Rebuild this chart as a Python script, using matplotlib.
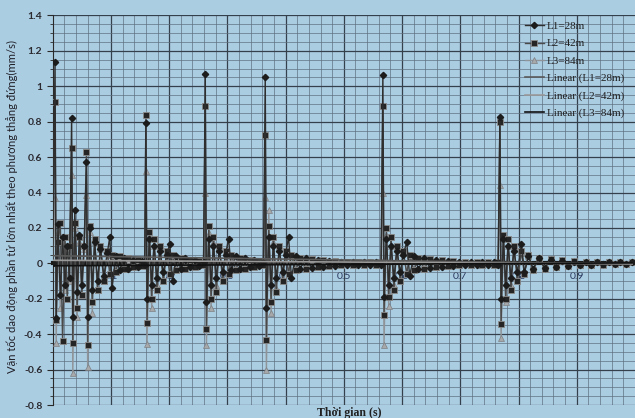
import numpy as np
import matplotlib
matplotlib.use("Agg")
import matplotlib.pyplot as plt
from matplotlib.ticker import MultipleLocator, FuncFormatter

# sample times (s), shared by the three spans
time_s = [
    # axles 1-3
    0.000, 0.004, 0.006, 0.009, 0.013, 0.017, 0.021, 0.025, 0.029, 0.0325,
    0.0345, 0.038, 0.042, 0.046, 0.050, 0.054, 0.058, 0.060, 0.064, 0.068,
    0.072, 0.077, 0.082, 0.088, 0.094, 0.098, 0.102, 0.108, 0.115, 0.122,
    0.130, 0.138, 0.146, 0.153, 0.158,
    # axle 4
    0.160, 0.162, 0.166, 0.170, 0.174, 0.179, 0.184, 0.190, 0.196, 0.201,
    0.206, 0.212, 0.220, 0.228, 0.236, 0.244, 0.252, 0.259,
    # axle 5
    0.262, 0.264, 0.268, 0.272, 0.276, 0.281, 0.286, 0.292, 0.297, 0.302,
    0.307, 0.314, 0.322, 0.330, 0.338, 0.346, 0.354, 0.362,
    # axle 6
    0.365, 0.367, 0.371, 0.375, 0.379, 0.384, 0.389, 0.395, 0.400, 0.405,
    0.410, 0.417, 0.425, 0.435, 0.445, 0.455, 0.465, 0.475, 0.485, 0.495,
    0.505, 0.515, 0.525, 0.535, 0.545, 0.555, 0.564,
    # axle 7
    0.567, 0.569, 0.573, 0.577, 0.581, 0.586, 0.591, 0.597, 0.602, 0.608,
    0.613, 0.620, 0.628, 0.638, 0.648, 0.658, 0.668, 0.678, 0.688, 0.698,
    0.708, 0.718, 0.728, 0.738, 0.748, 0.758, 0.765,
    # axle 8
    0.768, 0.770, 0.774, 0.778, 0.782, 0.787, 0.792, 0.798, 0.805, 0.810,
    0.817, 0.825, 0.835, 0.845, 0.855, 0.865, 0.875, 0.885, 0.895, 0.905,
    0.915, 0.925, 0.935, 0.945, 0.955, 0.965, 0.975, 0.985, 0.995,
]

v_L1 = [
    0.0, 1.14, -0.31, 0.22, -0.18, 0.15, -0.12, 0.10, -0.08, 0.82,
    -0.30, 0.30, -0.16, 0.16, -0.12, 0.10, 0.57, -0.30, 0.20, -0.15,
    0.12, -0.10, 0.08, -0.07, 0.06, 0.15, -0.14, 0.04, -0.04, 0.03,
    -0.03, 0.02, -0.02, 0.015, -0.01,
    0.79, -0.20, 0.14, -0.12, 0.10, -0.08, 0.07, -0.05, 0.05, 0.11,
    -0.10, 0.04, -0.03, 0.03, -0.02, 0.02, -0.015, 0.01,
    1.07, -0.22, 0.14, -0.12, 0.10, -0.08, 0.07, -0.05, 0.05, 0.14,
    -0.04, 0.04, -0.03, 0.03, -0.02, 0.02, -0.015, 0.01,
    1.05, -0.25, 0.15, -0.12, 0.10, -0.08, 0.07, -0.05, 0.05, 0.15,
    -0.08, 0.04, -0.03, 0.03, -0.025, 0.02, -0.02, 0.015, -0.015, 0.01,
    -0.01, 0.01, -0.01, 0.01, -0.01, 0.01, -0.01,
    1.065, -0.19, 0.14, -0.12, 0.10, -0.08, 0.07, -0.05, 0.05, 0.12,
    -0.07, 0.04, -0.03, 0.03, -0.025, 0.02, -0.02, 0.015, -0.015, 0.01,
    -0.01, 0.01, -0.01, 0.01, -0.01, 0.01, -0.01,
    0.826, -0.20, 0.14, -0.12, 0.10, -0.08, 0.07, -0.05, 0.11, -0.05,
    0.04, -0.03, 0.03, -0.025, 0.02, -0.02, 0.015, -0.015, 0.01, -0.01,
    0.01, -0.01, 0.01, -0.005, 0.005, -0.005, 0.005, -0.005, 0.005,
]

v_L2 = [
    0.0, 0.91, -0.32, 0.12, 0.23, -0.44, 0.15, -0.20, 0.10, 0.65,
    -0.45, 0.23, -0.25, 0.15, -0.18, 0.10, 0.63, -0.46, 0.21, -0.22,
    0.14, -0.15, 0.10, -0.10, 0.07, -0.06, 0.05, -0.05, 0.04, -0.03,
    0.03, -0.02, 0.02, -0.015, 0.01,
    0.84, -0.334, 0.18, -0.20, 0.14, -0.15, 0.10, -0.10, 0.07, -0.06,
    0.05, -0.04, 0.03, -0.03, 0.02, -0.02, 0.015, -0.01,
    0.89, -0.37, 0.21, -0.20, 0.15, -0.16, 0.10, -0.10, 0.07, -0.06,
    0.05, -0.04, 0.03, -0.03, 0.02, -0.02, 0.015, -0.01,
    0.725, -0.43, 0.21, -0.22, 0.15, -0.16, 0.10, -0.10, 0.07, -0.06,
    0.05, -0.04, 0.03, -0.03, 0.025, -0.02, 0.02, -0.015, 0.015, -0.01,
    0.01, -0.01, 0.01, -0.01, 0.01, -0.01, 0.01,
    0.89, -0.29, 0.20, -0.19, 0.15, -0.15, 0.10, -0.10, 0.07, -0.06,
    0.05, -0.04, 0.03, -0.03, 0.025, -0.02, 0.02, -0.015, 0.015, -0.01,
    0.01, -0.01, 0.01, -0.01, 0.01, -0.01, 0.01,
    0.80, -0.345, 0.16, -0.20, 0.14, -0.15, 0.10, -0.10, 0.07, -0.06,
    0.05, -0.04, 0.03, -0.03, 0.025, -0.02, 0.02, -0.015, 0.015, -0.01,
    0.01, -0.01, 0.01, -0.01, 0.005, -0.005, 0.005, -0.005, 0.005,
]

v_L3 = [
    0.0, 0.37, -0.45, 0.18, -0.25, 0.12, -0.15, 0.08, -0.10, 0.50,
    -0.62, 0.20, -0.30, 0.12, -0.18, 0.08, 0.385, -0.585, 0.18, -0.28,
    0.12, -0.15, 0.08, -0.10, 0.06, -0.06, 0.05, -0.04, 0.04, -0.03,
    0.02, -0.02, 0.015, -0.01, 0.01,
    0.52, -0.456, 0.15, -0.25, 0.10, -0.12, 0.08, -0.08, 0.06, -0.05,
    0.04, -0.03, 0.03, -0.02, 0.02, -0.015, 0.01, -0.01,
    0.40, -0.46, 0.17, -0.25, 0.12, -0.12, 0.08, -0.08, 0.06, -0.05,
    0.04, -0.03, 0.03, -0.02, 0.02, -0.015, 0.01, -0.01,
    0.376, -0.60, 0.30, -0.28, 0.12, -0.14, 0.08, -0.08, 0.06, -0.05,
    0.04, -0.03, 0.03, -0.02, 0.02, -0.02, 0.015, -0.015, 0.01, -0.01,
    0.01, -0.01, 0.01, -0.01, 0.01, -0.01, 0.005,
    0.40, -0.46, 0.16, -0.24, 0.10, -0.12, 0.08, -0.08, 0.06, -0.05,
    0.04, -0.03, 0.03, -0.02, 0.02, -0.02, 0.015, -0.015, 0.01, -0.01,
    0.01, -0.01, 0.01, -0.01, 0.01, -0.01, 0.005,
    0.44, -0.42, 0.15, -0.22, 0.10, -0.12, 0.08, -0.08, 0.06, -0.05,
    0.04, -0.03, 0.03, -0.02, 0.02, -0.02, 0.015, -0.015, 0.01, -0.01,
    0.01, -0.01, 0.01, -0.005, 0.005, -0.005, 0.005, -0.005, 0.005,
]

labels = ["L1=28m", "L2=42m", "L3=84m"]
x_tick_labels = ["0.1", "0.2", "0.3", "0.4", "0.5", "0.6", "0.7", "0.8", "0.9"]

BG = "#abcde2"
SERIF = ["Liberation Serif", "DejaVu Serif"]
SANS = ["Lato", "DejaVu Sans"]

fig = plt.figure(figsize=(6.35, 4.18), dpi=100, facecolor=BG)
ax = fig.add_axes((0.083, 0.031, 0.917, 0.932), facecolor=BG)

t = np.array(time_s)

# data series
ax.plot(t, v_L3, color="#8f9498", lw=1.0, marker="^", ms=4, mfc="#a6a8aa",
        mec="#7d8084", mew=0.5, label=labels[2], zorder=3)
ax.plot(t, v_L2, color="#4a4a4a", lw=1.0, marker="s", ms=5, mfc="#252525",
        mec="#8a8a8a", mew=0.6, label=labels[1], zorder=4)
ax.plot(t, v_L1, color="#2e2e2e", lw=1.0, marker="D", ms=3.2, mfc="#1c1c1c",
        mec="#1c1c1c", label=labels[0], zorder=5)

# linear trendlines, weighted by sample spacing (the record is uniformly sampled)
dt = np.gradient(t)
trend_colors = ["#5a5a5a", "#9a9a9a", "#111111"]
for vals, lab, c in zip([v_L1, v_L2, v_L3], labels, trend_colors):
    k, b = np.polyfit(t, vals, 1, w=np.sqrt(dt))
    ax.plot([t[0], t[-1]], [k * t[0] + b, k * t[-1] + b], color=c, lw=1.2,
            label="Linear (" + lab + ")", zorder=6)

ax.set_xlim(0, 1.0)
ax.set_ylim(-0.8, 1.4)

ax.xaxis.set_major_locator(MultipleLocator(0.1))
ax.xaxis.set_minor_locator(MultipleLocator(0.02))
ax.yaxis.set_major_locator(MultipleLocator(0.2))
ax.yaxis.set_minor_locator(MultipleLocator(0.05))

ax.grid(which="major", color="#34404c", lw=0.9, zorder=0)
ax.grid(which="minor", color="#5f7182", lw=0.5, zorder=0)
ax.set_axisbelow(True)

ax.spines["bottom"].set_position(("data", 0))
ax.spines["bottom"].set_linewidth(3.0)
ax.spines["bottom"].set_color("#1a1a1a")
ax.spines["left"].set_color("#2a2a2a")
ax.spines["top"].set_visible(False)
ax.spines["right"].set_visible(False)

ax.set_xticks(np.arange(1, 10) / 10)
ax.set_xticklabels(x_tick_labels, family=SANS)
ax.tick_params(axis="x", which="both", length=0, pad=6, labelsize=7.5,
               labelcolor="#2a3a60")
ax.tick_params(axis="y", which="major", length=4, labelsize=7.5,
               labelcolor="#2a2a30", color="#2a2a2a")
ax.tick_params(axis="y", which="minor", length=2, color="#2a2a2a")
ax.yaxis.set_major_formatter(FuncFormatter(lambda v, p: "{:g}".format(round(v, 2))))
for lab in ax.get_yticklabels():
    lab.set_family(SANS)
    lab.set_fontweight("bold")

fig.text(0.019, 0.505, "Vận tốc dao động phần tử lớn nhất theo phương thẳng đứng(mm/s)",
         rotation=90, va="center", ha="center", fontsize=8.1, family=SANS,
         color="#202028")
fig.text(0.55, 0.013, "Thời gian (s)", ha="center", va="center", fontsize=8.5,
         family=SERIF, color="#202020", fontweight="bold")

handles, labs = ax.get_legend_handles_labels()
order = [2, 1, 0, 3, 4, 5]
leg = ax.legend([handles[i] for i in order], [labs[i] for i in order],
                loc="upper right", bbox_to_anchor=(0.995, 1.005), frameon=False,
                prop={"family": SERIF, "size": 8}, handlelength=1.7,
                labelspacing=0.68, handletextpad=0.3, borderaxespad=0.3)
for txt in leg.get_texts():
    txt.set_color("#202020")

fig.savefig("out.png", dpi=100, facecolor=BG)
